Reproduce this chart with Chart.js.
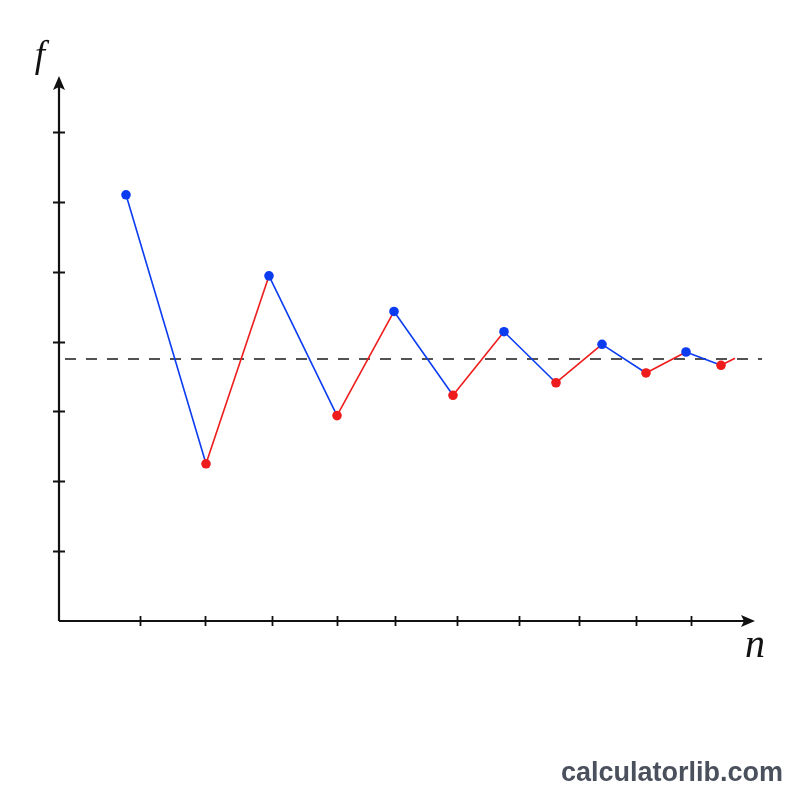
<!DOCTYPE html>
<html>
<head>
<meta charset="utf-8">
<script src="https://cdn.jsdelivr.net/npm/chart.js@4/dist/chart.umd.min.js"></script>
<style>
html,body{margin:0;padding:0;background:#fff;}
#wrap{width:800px;height:800px;position:relative;}
</style>
</head>
<body>
<div id="wrap"><canvas id="c" width="800" height="800"></canvas></div>
<script>
// Data (n in arbitrary axis units, f in axis units)
const nValues = [6.7, 14.7, 21.0, 27.8, 33.5, 39.4, 44.5, 49.7, 54.3, 58.7, 62.7, 66.2, 67.6];
const fValues = [6.10, 2.25, 4.94, 2.94, 4.43, 3.23, 4.14, 3.41, 3.96, 3.55, 3.85, 3.66, 3.76];
const limitValue = 3.75;
const limitRange = [0.6, 70.3];
const xTickValues = [8.1, 14.6, 21.3, 27.8, 33.6, 39.8, 46.0, 52.0, 57.7, 63.2];
const yTickValues = [1, 2, 3, 4, 5, 6, 7];
const axisLabels = {x: 'n', y: 'f'};
const watermark = 'calculatorlib.com';

const BLUE = '#0b3cf0';
const RED = '#ee1c1c';
const lastIdx = nValues.length - 1;

const seqData = nValues.map((n, i) => ({x: n, y: fValues[i]}));
const limitData = limitRange.map(x => ({x: x, y: limitValue}));

const axesPlugin = {
  id: 'axesPlugin',
  afterDraw(chart) {
    const ctx = chart.ctx;
    const xs = chart.scales.x, ys = chart.scales.y;
    const x0 = xs.getPixelForValue(0), y0 = ys.getPixelForValue(0);
    const xEnd = xs.getPixelForValue(69.6);
    const yEnd = ys.getPixelForValue(7.8);
    ctx.save();
    ctx.strokeStyle = '#111';
    ctx.fillStyle = '#111';
    ctx.lineWidth = 2.2;
    ctx.beginPath();
    ctx.moveTo(x0, y0); ctx.lineTo(xEnd - 10, y0);
    ctx.moveTo(x0, y0); ctx.lineTo(x0, yEnd + 10);
    ctx.stroke();
    // arrows
    ctx.beginPath();
    ctx.moveTo(xEnd, y0); ctx.lineTo(xEnd - 14, y0 - 6); ctx.lineTo(xEnd - 11, y0); ctx.lineTo(xEnd - 14, y0 + 6); ctx.closePath();
    ctx.fill();
    ctx.beginPath();
    ctx.moveTo(x0, yEnd); ctx.lineTo(x0 - 6, yEnd + 14); ctx.lineTo(x0, yEnd + 11); ctx.lineTo(x0 + 6, yEnd + 14); ctx.closePath();
    ctx.fill();
    // ticks
    ctx.lineWidth = 1.8;
    ctx.beginPath();
    xTickValues.forEach(v => {
      const p = Math.round(xs.getPixelForValue(v)) + 0.5;
      ctx.moveTo(p, y0 - 5); ctx.lineTo(p, y0 + 5);
    });
    yTickValues.forEach(v => {
      const p = Math.round(ys.getPixelForValue(v)) + 0.5;
      ctx.moveTo(x0 - 6, p); ctx.lineTo(x0 + 6, p);
    });
    ctx.stroke();
    // labels
    ctx.textAlign = 'center';
    ctx.textBaseline = 'alphabetic';
    ctx.font = 'italic 37px "Liberation Serif", "DejaVu Serif", serif';
    ctx.fillText(axisLabels.y, x0 - 19, yEnd - 9);
    ctx.font = 'italic 40px "Liberation Serif", "DejaVu Serif", serif';
    ctx.fillText(axisLabels.x, xEnd, y0 + 36);
    // watermark
    ctx.font = 'bold 27px "Liberation Sans", Arial, sans-serif';
    ctx.fillStyle = '#4a505c';
    ctx.textAlign = 'right';
    ctx.fillText(watermark, 783, 781);
    ctx.restore();
  }
};

new Chart(document.getElementById('c'), {
  type: 'scatter',
  data: {
    datasets: [
      {
        label: 'limit',
        data: limitData,
        showLine: true,
        borderColor: '#1a1a1a',
        borderWidth: 1.6,
        borderDash: [11, 10],
        pointRadius: 0,
        clip: false,
        order: 2
      },
      {
        label: 'sequence',
        data: seqData,
        showLine: true,
        borderWidth: 1.6,
        borderColor: BLUE,
        segment: {
          borderColor: c => (c.p0DataIndex % 2 === 0 ? BLUE : RED)
        },
        pointRadius: c => (c.dataIndex === lastIdx ? 0 : 4.8),
        pointBackgroundColor: c => (c.dataIndex % 2 === 0 ? BLUE : RED),
        pointBorderWidth: 0,
        pointBorderColor: 'rgba(0,0,0,0)',
        clip: false,
        order: 1
      }
    ]
  },
  options: {
    responsive: false,
    animation: false,
    devicePixelRatio: 1,
    layout: {padding: {left: 59, right: 36, top: 76, bottom: 179}},
    plugins: {legend: {display: false}, tooltip: {enabled: false}},
    scales: {
      x: {type: 'linear', min: 0, max: 70.5, display: false},
      y: {type: 'linear', min: 0, max: 7.8, display: false}
    }
  },
  plugins: [axesPlugin]
});
</script>
</body>
</html>
